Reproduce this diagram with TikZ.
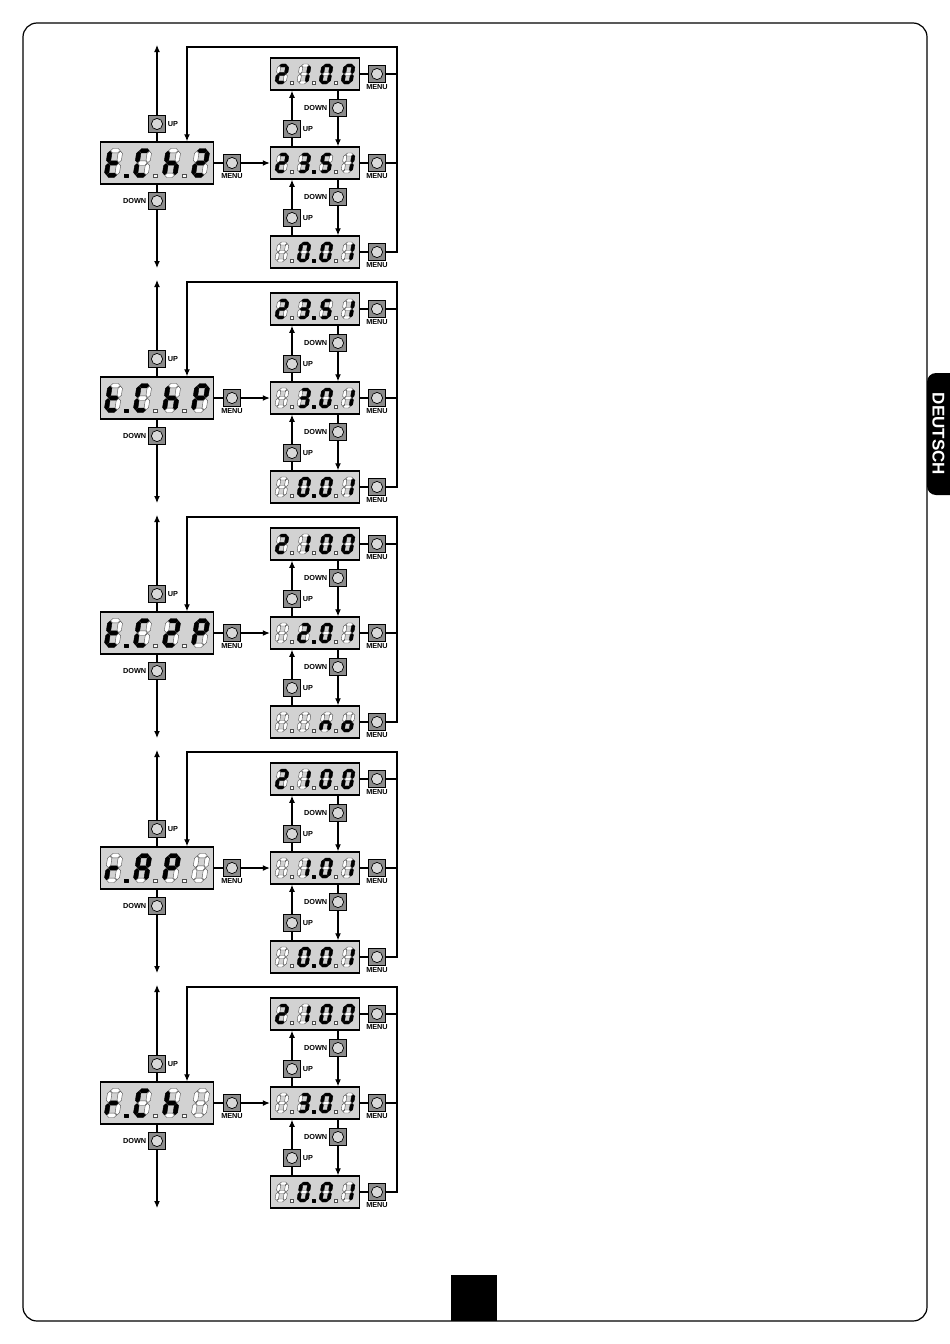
\documentclass[tikz,border=0pt]{standalone}
\usepackage{fontspec}
\setsansfont{Liberation Sans}
\usetikzlibrary{arrows.meta}

% segment patterns a b c d e f g
\def\sgBlank{0000000}
\def\sgZero{1111110}
\def\sgOne{0110000}
\def\sgTwo{1101101}
\def\sgThree{1111001}
\def\sgFive{1011011}
\def\sgt{0001111}
\def\sgC{1001110}
\def\sgh{0010111}
\def\sgP{1100111}
\def\sgr{0000101}
\def\sgA{1110111}
\def\sgn{0010101}
\def\sgo{0011101}

\def\seggap{0.45}
\def\segh{2.2}

\newcommand\hseg[4]{\path[#1] (#2+\seggap,#4) -- (#2+\seggap+\segh,#4-\segh) -- (#3-\seggap-\segh,#4-\segh) -- (#3-\seggap,#4) -- (#3-\seggap-\segh,#4+\segh) -- (#2+\seggap+\segh,#4+\segh) -- cycle;}
\newcommand\vseg[4]{\path[#1] (#2,#3+\seggap) -- (#2+\segh,#3+\seggap+\segh) -- (#2+\segh,#4-\seggap-\segh) -- (#2,#4-\seggap) -- (#2-\segh,#4-\seggap-\segh) -- (#2-\segh,#3+\seggap+\segh) -- cycle;}

\newcommand\sevseg[7]{%
  \hseg{seg#1}{-5.3}{5.3}{-12.3}%
  \vseg{seg#2}{5.3}{-12.3}{0}%
  \vseg{seg#3}{5.3}{0}{12.3}%
  \hseg{seg#4}{-5.3}{5.3}{12.3}%
  \vseg{seg#5}{-5.3}{0}{12.3}%
  \vseg{seg#6}{-5.3}{-12.3}{0}%
  \hseg{seg#7}{-5.3}{5.3}{0}%
}
\newcommand\digitat[2]{\begin{scope}[shift={(#1,0)},xslant=.15]\expandafter\sevseg#2\end{scope}}
\newcommand\dotrow[3]{%
  \path[seg#1] (-31,12.6) +(-1.7,-1.7) rectangle +(1.7,1.7);
  \path[seg#2] (-2,12.6) +(-1.7,-1.7) rectangle +(1.7,1.7);
  \path[seg#3] (27,12.6) +(-1.7,-1.7) rectangle +(1.7,1.7);
}
\newcommand\digits[8]{%
  \begin{scope}[shift={(#1.center)},xscale=#2,yscale=#3]
    \digitat{-43.5}{#4}
    \digitat{-14.5}{#5}
    \digitat{14.5}{#6}
    \digitat{43.5}{#7}
    \dotrow#8
  \end{scope}}

\tikzset{
  lcd/.style={draw,line width=1.5pt,fill=gray!35,inner sep=0pt},
  bigdisp/.style={lcd,minimum width=113pt,minimum height=42pt},
  smalldisp/.style={lcd,minimum width=89pt,minimum height=32pt},
  btn/.style={draw,line width=.8pt,fill=black!45,minimum size=17pt,inner sep=0pt,
    path picture={\draw[line width=.7pt,fill=black!15] (path picture bounding box.center) circle (5.6pt);}},
  lbl/.style={font=\sffamily\bfseries\fontsize{7.3}{8}\selectfont,inner sep=0pt,label distance=1.3pt},
  seg1/.style={fill=black,draw=black,line width=.4pt,line join=round},
  seg0/.style={fill=white,draw=black!70,line width=.4pt},
}

\begin{document}
\begin{tikzpicture}[x=1pt,y=-1pt,>={Latex[length=7pt,width=6pt]},line width=1.1pt]
\useasboundingbox (0,0) rectangle (950,1344);

\draw[line width=1.2pt,rounded corners=14pt] (23,23) rectangle (927,1321);
\fill (451,1275) rectangle (497,1321);
\fill[rounded corners=9pt] (927,373) rectangle (962,495);
\node[rotate=-90,text=white,font=\sffamily\bfseries\fontsize{17}{17}\selectfont] (tab) at (938.5,434) {DEUTSCH};

\foreach \n [evaluate=\n as \Y using 163+235*(\n-1)] in {1,...,5} {
  % parameter display and its keys
  \node[bigdisp] (L\n) at (157,\Y) {};
  \node[btn,label={[lbl]right:UP}] (LU\n) at (157,\Y-39) {};
  \node[btn,label={[lbl]left:DOWN}] (LD\n) at (157,\Y+38) {};
  \node[btn,label={[lbl]below:MENU}] (M\n) at (232,\Y) {};
  \coordinate (T\n) at (157,\Y-118);
  \coordinate (B\n) at (157,\Y+105);
  \coordinate (CR\n) at (397,\Y-116);
  \coordinate (CL\n) at (187,\Y-116);
  % value displays
  \node[smalldisp] (RA\n) at (315,\Y-89) {};
  \node[smalldisp] (RB\n) at (315,\Y) {};
  \node[smalldisp] (RC\n) at (315,\Y+89) {};
  \node[btn,label={[lbl]right:UP}] (UA\n) at (292,\Y-34) {};
  \node[btn,label={[lbl]left:DOWN}] (DA\n) at (338,\Y-55) {};
  \node[btn,label={[lbl]right:UP}] (UB\n) at (292,\Y+55) {};
  \node[btn,label={[lbl]left:DOWN}] (DB\n) at (338,\Y+34) {};
  \node[btn,label={[lbl]below:MENU}] (MA\n) at (377,\Y-89) {};
  \node[btn,label={[lbl]below:MENU}] (MB\n) at (377,\Y) {};
  \node[btn,label={[lbl]below:MENU}] (MC\n) at (377,\Y+89) {};

  \draw (L\n) -- (LU\n);
  \draw[->] (LU\n) -- (T\n);
  \draw (L\n) -- (LD\n);
  \draw[->] (LD\n) -- (B\n);
  \draw (L\n) -- (M\n);
  \draw[->] (M\n) -- (RB\n);

  \draw (UA\n |- RB\n.north) -- (UA\n);
  \draw[->] (UA\n) -- (UA\n |- RA\n.south);
  \draw (DA\n |- RA\n.south) -- (DA\n);
  \draw[->] (DA\n) -- (DA\n |- RB\n.north);
  \draw (UB\n |- RC\n.north) -- (UB\n);
  \draw[->] (UB\n) -- (UB\n |- RB\n.south);
  \draw (DB\n |- RB\n.south) -- (DB\n);
  \draw[->] (DB\n) -- (DB\n |- RC\n.north);

  \draw (RA\n) -- (MA\n);
  \draw (RB\n) -- (MB\n);
  \draw (RC\n) -- (MC\n);
  \draw (MA\n) -- (MA\n -| CR\n);
  \draw (MB\n) -- (MB\n -| CR\n);
  \draw[->] (MC\n) -- (MC\n -| CR\n) -- (CR\n) -- (CL\n) -- (CL\n |- L\n.north);
}

% display contents
\digits{L1}{1}{1}{\sgt}{\sgC}{\sgh}{\sgTwo}{100}
\digits{RA1}{.76}{.69}{\sgTwo}{\sgOne}{\sgZero}{\sgZero}{000}
\digits{RB1}{.76}{.69}{\sgTwo}{\sgThree}{\sgFive}{\sgOne}{010}
\digits{RC1}{.76}{.69}{\sgBlank}{\sgZero}{\sgZero}{\sgOne}{010}

\digits{L2}{1}{1}{\sgt}{\sgC}{\sgh}{\sgP}{100}
\digits{RA2}{.76}{.69}{\sgTwo}{\sgThree}{\sgFive}{\sgOne}{010}
\digits{RB2}{.76}{.69}{\sgBlank}{\sgThree}{\sgZero}{\sgOne}{010}
\digits{RC2}{.76}{.69}{\sgBlank}{\sgZero}{\sgZero}{\sgOne}{010}

\digits{L3}{1}{1}{\sgt}{\sgC}{\sgTwo}{\sgP}{100}
\digits{RA3}{.76}{.69}{\sgTwo}{\sgOne}{\sgZero}{\sgZero}{000}
\digits{RB3}{.76}{.69}{\sgBlank}{\sgTwo}{\sgZero}{\sgOne}{010}
\digits{RC3}{.76}{.69}{\sgBlank}{\sgBlank}{\sgn}{\sgo}{000}

\digits{L4}{1}{1}{\sgr}{\sgA}{\sgP}{\sgBlank}{100}
\digits{RA4}{.76}{.69}{\sgTwo}{\sgOne}{\sgZero}{\sgZero}{000}
\digits{RB4}{.76}{.69}{\sgBlank}{\sgOne}{\sgZero}{\sgOne}{010}
\digits{RC4}{.76}{.69}{\sgBlank}{\sgZero}{\sgZero}{\sgOne}{010}

\digits{L5}{1}{1}{\sgr}{\sgC}{\sgh}{\sgBlank}{100}
\digits{RA5}{.76}{.69}{\sgTwo}{\sgOne}{\sgZero}{\sgZero}{000}
\digits{RB5}{.76}{.69}{\sgBlank}{\sgThree}{\sgZero}{\sgOne}{010}
\digits{RC5}{.76}{.69}{\sgBlank}{\sgZero}{\sgZero}{\sgOne}{010}

\end{tikzpicture}
\end{document}
